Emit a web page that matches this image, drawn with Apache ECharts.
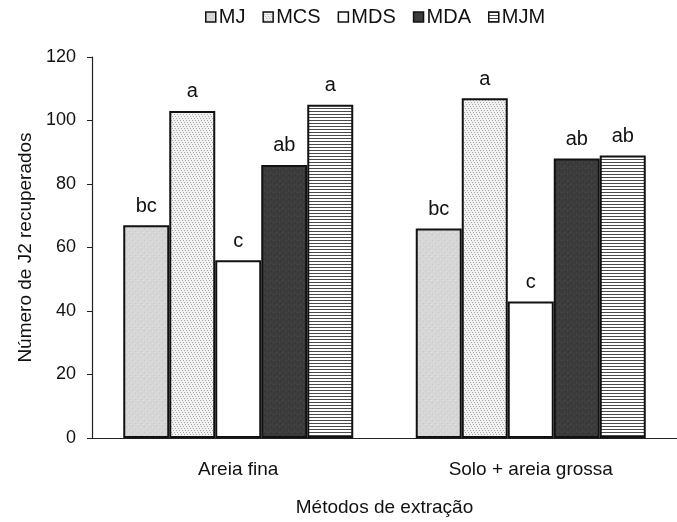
<!DOCTYPE html>
<html>
<head>
<meta charset="utf-8">
<script src="https://cdn.jsdelivr.net/npm/echarts@6/dist/echarts.min.js"></script>
<style>
html,body{margin:0;padding:0;background:#fff;}
#chart{width:677px;height:522px;}
</style>
</head>
<body>
<div id="chart"></div>
<script>
// Extraction methods (x categories)
const categories = ['Areia fina', 'Solo + areia grossa'];
// Series names
const seriesNames = ['MJ', 'MCS', 'MDS', 'MDA', 'MJM'];
// Recovered J2 counts per method, per series
const valuesMJ  = [67, 66];
const valuesMCS = [103, 107];
const valuesMDS = [56, 43];
const valuesMDA = [86, 88];
const valuesMJM = [105, 89];
// Significance letters shown above each bar
const lettersMJ  = ['bc', 'bc'];
const lettersMCS = ['a', 'a'];
const lettersMDS = ['c', 'c'];
const lettersMDA = ['ab', 'ab'];
const lettersMJM = ['a', 'ab'];
// Y axis ticks
const yTicks = [0, 20, 40, 60, 80, 100, 120];

function makePattern(kind) {
  const c = document.createElement('canvas');
  const s = 6;
  c.width = s; c.height = s;
  const g = c.getContext('2d');
  if (kind === 'grayfine') {
    g.fillStyle = '#d6d6d6'; g.fillRect(0, 0, s, s);
    g.fillStyle = '#c8c8c8';
    g.fillRect(0, 0, 1, 1); g.fillRect(3, 3, 1, 1);
    g.fillStyle = '#e2e2e2';
    g.fillRect(2, 1, 1, 1); g.fillRect(5, 4, 1, 1);
  } else if (kind === 'dots') {
    g.fillStyle = '#f2f2f2'; g.fillRect(0, 0, s, s);
    g.fillStyle = '#a8a8a8';
    g.fillRect(0, 0, 1, 1); g.fillRect(3, 0, 1, 1);
    g.fillRect(1, 2, 1, 1); g.fillRect(4, 2, 1, 1);
    g.fillRect(2, 4, 1, 1); g.fillRect(5, 4, 1, 1);
  } else if (kind === 'dark') {
    g.fillStyle = '#3c3c3c'; g.fillRect(0, 0, s, s);
    g.fillStyle = '#303030';
    g.fillRect(1, 1, 1, 1); g.fillRect(4, 3, 1, 1);
    g.fillStyle = '#4a4a4a';
    g.fillRect(3, 0, 1, 1); g.fillRect(0, 4, 1, 1);
  } else if (kind === 'hstripes') {
    g.fillStyle = '#ffffff'; g.fillRect(0, 0, s, s);
    g.fillStyle = '#4a4a4a';
    g.fillRect(0, 0, s, 1); g.fillRect(0, 3, s, 1);
  } else {
    g.fillStyle = '#ffffff'; g.fillRect(0, 0, s, s);
  }
  return { image: c, repeat: 'repeat' };
}

const fills = [
  makePattern('grayfine'),
  makePattern('dots'),
  makePattern('white'),
  makePattern('dark'),
  makePattern('hstripes')
];
const allValues = [valuesMJ, valuesMCS, valuesMDS, valuesMDA, valuesMJM];
const allLetters = [lettersMJ, lettersMCS, lettersMDS, lettersMDA, lettersMJM];

const FONT = '"Liberation Sans", Arial, sans-serif';

const series = seriesNames.map((name, i) => ({
  name: name,
  type: 'bar',
  data: allValues[i],
  barWidth: 46,
  barGap: '0%',
  itemStyle: { color: fills[i], borderColor: '#111', borderWidth: 2 },
  label: {
    show: true,
    position: 'top',
    distance: 9,
    color: '#111',
    fontFamily: FONT,
    fontSize: 20,
    formatter: p => allLetters[i][p.dataIndex]
  },
  emphasis: { disabled: true }
}));

const chart = echarts.init(document.getElementById('chart'), null, { renderer: 'canvas' });
chart.setOption({
  animation: false,
  backgroundColor: '#fff',
  textStyle: { fontFamily: FONT },
  legend: {
    top: 7,
    left: 205,
    padding: 0,
    itemWidth: 10,
    itemHeight: 10,
    itemGap: 17,
    textStyle: { fontFamily: FONT, fontSize: 20, color: '#111', padding: [0, 0, 0, -2] },
    itemStyle: { borderColor: '#111', borderWidth: 1.5 },
    data: seriesNames.map(n => ({ name: n, icon: 'rect' }))
  },
  grid: { left: 92, right: 0, top: 57, bottom: 82, containLabel: false },
  xAxis: {
    type: 'category',
    data: categories,
    name: 'Métodos de extração',
    nameLocation: 'middle',
    nameGap: 60,
    nameTextStyle: { fontFamily: FONT, fontSize: 19, color: '#111' },
    axisLine: { lineStyle: { color: '#222', width: 1.2 } },
    axisTick: { show: false },
    axisLabel: { fontFamily: FONT, fontSize: 19, color: '#111', margin: 22 }
  },
  yAxis: {
    type: 'value',
    min: yTicks[0],
    max: yTicks[yTicks.length - 1],
    interval: yTicks[1] - yTicks[0],
    name: 'Número de J2 recuperados',
    nameLocation: 'middle',
    nameGap: 56,
    nameTextStyle: { fontFamily: FONT, fontSize: 19, color: '#111' },
    axisLine: { show: true, lineStyle: { color: '#222', width: 1.2 } },
    axisTick: { show: true, inside: false, length: 5, lineStyle: { color: '#222' } },
    axisLabel: { fontFamily: FONT, fontSize: 18, color: '#111', margin: 16 },
    splitLine: { show: false }
  },
  series: series
});
</script>
</body>
</html>
